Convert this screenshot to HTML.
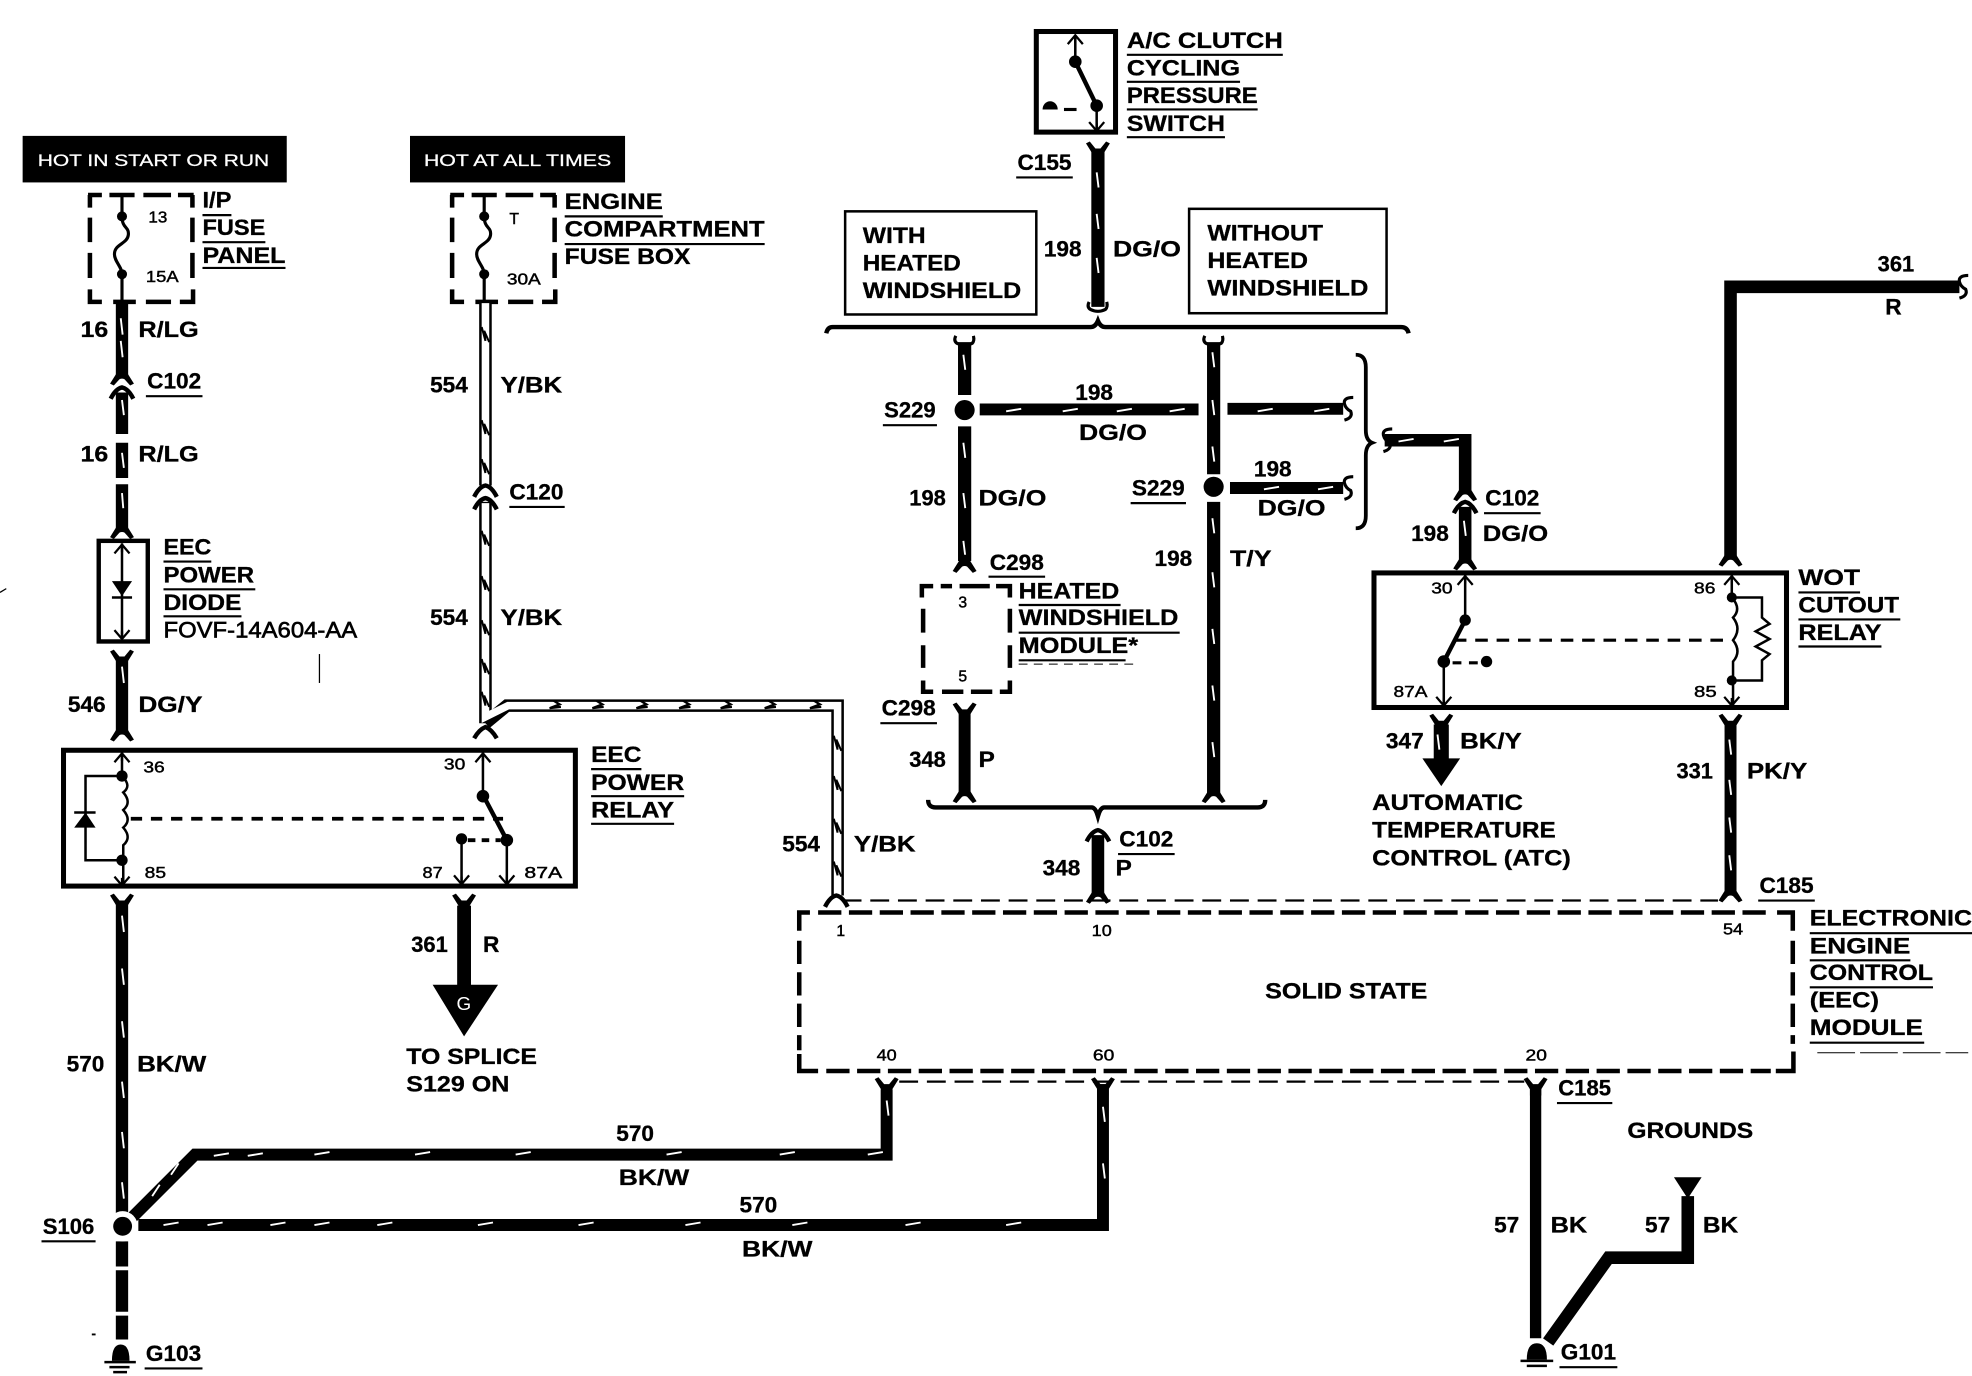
<!DOCTYPE html>
<html><head><meta charset="utf-8"><style>
html,body{margin:0;padding:0;background:#fff}
svg{display:block}
text{font-family:"Liberation Sans",Arial,sans-serif;font-weight:bold;font-size:18px;fill:#000;stroke:#000;stroke-width:.25}
.n{font-size:12.5px;font-weight:normal;stroke-width:.35}
.w{fill:#fff;stroke:#fff;stroke-width:.2;font-size:13px;font-weight:normal}
.u{stroke:#000;stroke-width:1.7;fill:none}
.l{stroke:#000;fill:none}
.k{stroke:#fff;stroke-width:1.5;fill:none}
.d{stroke:#000;stroke-width:3.6;fill:none}
.x{stroke:#000;stroke-width:1.8;fill:none;stroke-dasharray:15 7}
</style></head><body>
<svg xmlns="http://www.w3.org/2000/svg" width="1972" height="1376" viewBox="0 0 1568 1094">
<defs>
<path id="t" d="M-9.500 -4L-6.500 -5.500L-2 0H2L6.500 -5.500L9.500 -4L4.500 4V9H-4.500V4Z"/>
<path id="b" d="M-9.500 5L-6.500 6.500L-2 1.500Q0 0.500 2 1.500L6.500 6.500L9.500 5L4.500 -3V-8H-4.500V-3Z"/>
<path id="a" d="M-9 5Q-5 -3 0 -4Q5 -3 9 5" fill="none" stroke="#000" stroke-width="3.500"/>
<path id="c" d="M-7 -5Q-9 -1 -6 1Q0 4 6 1Q8 -1 7 -5" fill="none" stroke="#000" stroke-width="2.500"/>
<path id="up" d="M-6 7L0 0L6 7M0 0V6" fill="none" stroke="#000" stroke-width="1.800"/>
<path id="dn" d="M-6 -7L0 0L6 -7M0 0V-6" fill="none" stroke="#000" stroke-width="1.800"/>
<path id="cu" d="M6 -9Q-2 -9 -1 -4Q0 0 4 2Q6 7 -1 9" fill="none" stroke="#000" stroke-width="2.500"/>
<path id="f" d="M70 155H81M87 155H107M114 155H136M141.500 155H154M71.500 155V165M71.500 173V192.500M71.500 201V221M71.500 230V240H81M90 240H108M116 240H136M143 240H153.500V230M153 221V201M153 192.500V173M153 165V155"/>
<path id="z" d="M0 -4L5 -1L-3 2L6 1" fill="none" stroke="#000" stroke-width="1.800"/>
<path id="v" d="M-3 -6L0 5L-1 -3L3 6" fill="none" stroke="#000" stroke-width="1.600"/>
</defs>

<!-- header boxes -->
<rect x="18" y="108" width="210" height="37"/><text class="w" x="30" y="132" textLength="184" lengthAdjust="spacingAndGlyphs">HOT IN START OR RUN</text>
<rect x="326" y="108" width="171" height="37"/><text class="w" x="337" y="132" textLength="149" lengthAdjust="spacingAndGlyphs">HOT AT ALL TIMES</text>

<!-- fuse 1 -->
<use href="#f" class="d"/>
<path class="l" stroke-width="2.500" d="M97 155V172C97 182 103 180 102 187C101 194 91 194 91 202C91 208 97 212 97 218V240"/>
<circle cx="97" cy="172" r="4"/><circle cx="97" cy="218" r="4"/>
<text class="n" x="118" y="177" textLength="15" lengthAdjust="spacingAndGlyphs">13</text><text class="n" x="116" y="224" textLength="26" lengthAdjust="spacingAndGlyphs">15A</text>
<text x="161" y="165" textLength="23" lengthAdjust="spacingAndGlyphs">I/P</text><text x="161" y="187" textLength="50" lengthAdjust="spacingAndGlyphs">FUSE</text><text x="161" y="209" textLength="66" lengthAdjust="spacingAndGlyphs">PANEL</text>
<path class="u" d="M161 171H184M161 192.500H211M161 213H227"/>

<!-- fuse 2 -->
<use href="#f" class="d" x="288"/>
<path class="l" stroke-width="2.500" d="M385 155V172C385 182 391 180 390 187C389 194 379 194 379 202C379 208 385 212 385 218V240"/>
<circle cx="385" cy="172" r="4"/><circle cx="385" cy="218" r="4"/>
<text class="n" x="405" y="178">T</text><text class="n" x="403" y="226" textLength="27" lengthAdjust="spacingAndGlyphs">30A</text>
<text x="449" y="166" textLength="78" lengthAdjust="spacingAndGlyphs">ENGINE</text><text x="449" y="188" textLength="159" lengthAdjust="spacingAndGlyphs">COMPARTMENT</text><text x="449" y="210" textLength="100" lengthAdjust="spacingAndGlyphs">FUSE BOX</text>
<path class="u" d="M449 172H527M449 194H608"/>

<!-- left wire -->
<g class="l" stroke-width="9.800">
<path d="M97 240V300M97 312V345M97 352V380M97 385V421M97 524V584M97 716V970M97 987V1007M97 1010V1043M97 1046V1065"/>
</g>
<use href="#b" x="97" y="300"/><use href="#a" x="97" y="312"/>
<use href="#b" x="97" y="422"/><use href="#t" x="97" y="522"/><use href="#b" x="97" y="583"/><use href="#t" x="97" y="716"/>
<path class="k" d="M96 253l1.500 13M96 271l1.500 13M97 318l1.500 12M97 360l1.500 12M97 392l1 12M97 530l1.500 13M97 728l1.500 13M97 770l1.500 13M97 812l1.500 13M97 860l1.500 13M97 900l1.500 13M97 940l1.500 13"/>
<text x="64" y="268" textLength="22" lengthAdjust="spacingAndGlyphs">16</text><text x="110" y="268" textLength="48" lengthAdjust="spacingAndGlyphs">R/LG</text>
<text x="117" y="309" textLength="43" lengthAdjust="spacingAndGlyphs">C102</text><path class="u" d="M116 315H161"/>
<text x="64" y="367" textLength="22" lengthAdjust="spacingAndGlyphs">16</text><text x="110" y="367" textLength="48" lengthAdjust="spacingAndGlyphs">R/LG</text>

<!-- diode -->
<rect x="78.500" y="430" width="39" height="80" class="l" stroke-width="3.500"/>
<path class="l" stroke-width="2" d="M97 432V508"/>
<use href="#up" x="97" y="433"/><use href="#dn" x="97" y="508"/>
<path d="M89 462H105L97 474Z"/><path class="l" stroke-width="2" d="M89 475H105"/>
<text x="130" y="441" textLength="38" lengthAdjust="spacingAndGlyphs">EEC</text><text x="130" y="463" textLength="72" lengthAdjust="spacingAndGlyphs">POWER</text><text x="130" y="485" textLength="62" lengthAdjust="spacingAndGlyphs">DIODE</text><text x="130" y="507" textLength="154" lengthAdjust="spacingAndGlyphs" style="font-weight:normal;stroke-width:.5">FOVF-14A604-AA</text>
<path class="u" d="M130 446.500H168M130 468.500H203M130 490H192"/>
<path class="l" d="M254 520V543" stroke-width="1"/><path class="l" d="M0 471L5 468" stroke-width="1"/>
<text x="54" y="566" textLength="30" lengthAdjust="spacingAndGlyphs">546</text><text x="110" y="566" textLength="51" lengthAdjust="spacingAndGlyphs">DG/Y</text>

<!-- EEC relay -->
<rect x="50.500" y="596.500" width="407" height="108" class="l" stroke-width="4"/>
<path class="l" stroke-width="2" d="M97 598V617Q105 625 98 630Q105 638 98 644Q105 652 98 658Q105 666 98 672V703M97 617H68V684H97"/>
<use href="#up" x="97" y="599"/><use href="#dn" x="97" y="704"/>
<circle cx="97" cy="617" r="4.500"/><circle cx="97" cy="684" r="4.500"/>
<path d="M59 658H76L68 646Z"/><path class="l" stroke-width="2" d="M59 646H76"/>
<path class="l" stroke-width="3" stroke-dasharray="9 7" d="M104 651H400"/>
<path class="l" stroke-width="2" d="M384 598V632M367 667V703M403 668V703"/>
<use href="#up" x="384" y="599"/><use href="#dn" x="367" y="703"/><use href="#dn" x="403" y="703"/>
<path class="l" stroke-width="3.500" d="M384 632L403 668"/>
<circle cx="384" cy="633" r="5"/><circle cx="403" cy="668" r="5"/><circle cx="367" cy="667" r="4.500"/>
<path class="l" stroke-width="3" stroke-dasharray="6 5" d="M372 668H398"/>
<text class="n" x="114" y="614" textLength="17" lengthAdjust="spacingAndGlyphs">36</text><text class="n" x="353" y="612" textLength="17" lengthAdjust="spacingAndGlyphs">30</text><text class="n" x="115" y="698" textLength="17" lengthAdjust="spacingAndGlyphs">85</text><text class="n" x="336" y="698" textLength="16" lengthAdjust="spacingAndGlyphs">87</text><text class="n" x="417" y="698" textLength="30" lengthAdjust="spacingAndGlyphs">87A</text>
<text x="470" y="606" textLength="40" lengthAdjust="spacingAndGlyphs">EEC</text><text x="470" y="628" textLength="74" lengthAdjust="spacingAndGlyphs">POWER</text><text x="470" y="650" textLength="66" lengthAdjust="spacingAndGlyphs">RELAY</text>
<path class="u" d="M470 611.500H510M470 633H544M470 655H536"/>
<text x="53" y="852" textLength="30" lengthAdjust="spacingAndGlyphs">570</text><text x="109" y="852" textLength="55" lengthAdjust="spacingAndGlyphs">BK/W</text>

<!-- 361 -->
<use href="#t" x="369" y="716"/><path class="l" stroke-width="11" d="M369 720V785"/>
<path d="M344 783H396L369 824Z"/><text x="363" y="803" style="fill:#fff;stroke:none;font-size:15px;font-weight:normal">G</text>
<text x="327" y="757" textLength="29" lengthAdjust="spacingAndGlyphs">361</text><text x="384" y="757" textLength="13" lengthAdjust="spacingAndGlyphs">R</text>
<text x="323" y="846" textLength="104" lengthAdjust="spacingAndGlyphs">TO SPLICE</text><text x="323" y="868" textLength="82" lengthAdjust="spacingAndGlyphs">S129 ON</text>

<!-- 554 -->
<g class="l" stroke-width="10"><path d="M386 240V386M386 399V575M386 575L403 561H666V712"/></g>
<g stroke="#fff" fill="none" stroke-width="6"><path d="M386 241V386M386 400V570L404 561H666V712"/></g>
<use href="#v" x="386" y="266"/><use href="#v" x="386" y="340"/><use href="#v" x="386" y="371"/><use href="#v" x="386" y="428"/><use href="#v" x="386" y="464"/><use href="#v" x="386" y="499"/><use href="#v" x="386" y="530"/><use href="#v" x="386" y="556"/>
<use href="#z" x="440" y="561"/><use href="#z" x="474" y="561"/><use href="#z" x="509" y="561"/><use href="#z" x="543" y="561"/><use href="#z" x="576" y="561"/><use href="#z" x="611" y="561"/><use href="#z" x="647" y="561"/>
<use href="#v" x="666" y="591"/><use href="#v" x="666" y="623"/><use href="#v" x="666" y="657"/><use href="#v" x="666" y="691"/>
<use href="#a" x="386" y="390"/><use href="#a" x="386" y="400"/>
<path class="l" stroke-width="3.500" d="M377 587Q381 580 386 578Q391 580 395 587"/>
<text x="342" y="312" textLength="30" lengthAdjust="spacingAndGlyphs">554</text><text x="398" y="312" textLength="49" lengthAdjust="spacingAndGlyphs">Y/BK</text>
<text x="405" y="397" textLength="43" lengthAdjust="spacingAndGlyphs">C120</text><path class="u" d="M405 403H449"/>
<text x="342" y="497" textLength="30" lengthAdjust="spacingAndGlyphs">554</text><text x="398" y="497" textLength="49" lengthAdjust="spacingAndGlyphs">Y/BK</text>
<text x="622" y="677" textLength="30" lengthAdjust="spacingAndGlyphs">554</text><text x="679" y="677" textLength="49" lengthAdjust="spacingAndGlyphs">Y/BK</text>
<use href="#a" x="665" y="716"/>

<!-- bottom left -->
<path class="l" stroke-width="9.500" stroke-linejoin="miter" d="M103 970L155 918H705V866"/>
<path class="l" stroke-width="9.500" d="M110 974H877V862"/>
<path class="k" d="M121 951l6-9M136 934l6-9M170 919l12-2M197 919l12-2M250 918l12-2M330 918l12-2M410 918l12-2M530 918l12-2M620 918l12-2M690 918l12-2M705 875l1.500 12M130 974l12-2M165 974l12-2M215 974l12-2M250 974l12-2M300 974l12-2M380 974l12-2M460 974l12-2M545 974l12-2M630 974l12-2M720 974l12-2M800 974l12-2M877 880l1.500 12M877 925l1.500 12"/>
<use href="#t" x="705" y="862"/><use href="#t" x="877" y="862"/>
<text x="490" y="907" textLength="30" lengthAdjust="spacingAndGlyphs">570</text><text x="492" y="942" textLength="56" lengthAdjust="spacingAndGlyphs">BK/W</text>
<text x="588" y="964" textLength="30" lengthAdjust="spacingAndGlyphs">570</text><text x="590" y="999" textLength="56" lengthAdjust="spacingAndGlyphs">BK/W</text>
<text x="34" y="981" textLength="41" lengthAdjust="spacingAndGlyphs">S106</text><path class="u" d="M33 987H76"/>
<circle cx="97.500" cy="975" r="12" fill="#fff"/><circle cx="97.500" cy="975" r="7.500"/>
<path d="M89 1082Q89 1069 96 1069Q103 1069 103 1082Z"/><path class="l" stroke-width="2" d="M83 1083H108M87 1087H103M90 1091H101"/>
<text x="116" y="1082" textLength="44" lengthAdjust="spacingAndGlyphs">G103</text><path class="u" d="M115 1088H161"/>
<path class="l" stroke-width="1.500" d="M73 1061H76"/>

<!-- A/C -->
<rect x="824" y="25" width="63" height="80" class="l" stroke-width="4"/>
<path class="l" stroke-width="2" d="M855 28V49M872 84V105"/><use href="#up" x="855" y="28"/><use href="#dn" x="872" y="104"/>
<path class="l" stroke-width="3.500" d="M855 49L872 84"/><circle cx="855" cy="49" r="5"/><circle cx="872" cy="84" r="5"/><path d="M829 87a5.500 6 0 0 1 12 0Z"/>
<path class="l" stroke-width="2.500" d="M846 87H856"/>
<text x="896" y="38" textLength="124" lengthAdjust="spacingAndGlyphs">A/C CLUTCH</text><text x="896" y="60" textLength="90" lengthAdjust="spacingAndGlyphs">CYCLING</text><text x="896" y="82" textLength="104" lengthAdjust="spacingAndGlyphs">PRESSURE</text><text x="896" y="104" textLength="78" lengthAdjust="spacingAndGlyphs">SWITCH</text>
<path class="u" d="M896 43.500H1020M896 65H986M896 87H1000M896 109H974"/>
<path class="l" stroke-width="10.500" d="M873 118V244"/><use href="#t" x="873" y="118"/><use href="#c" x="873" y="245"/>
<path class="k" d="M872 137l1.500 12M872 170l1.500 12M872 205l1.500 12"/>
<text x="809" y="135" textLength="43" lengthAdjust="spacingAndGlyphs">C155</text><path class="u" d="M808 141H853"/>
<text x="830" y="204" textLength="30" lengthAdjust="spacingAndGlyphs">198</text><text x="885" y="204" textLength="54" lengthAdjust="spacingAndGlyphs">DG/O</text>
<rect x="672" y="168" width="152" height="82" class="l" stroke-width="2"/>
<text x="686" y="193" textLength="50" lengthAdjust="spacingAndGlyphs">WITH</text><text x="686" y="215" textLength="78" lengthAdjust="spacingAndGlyphs">HEATED</text><text x="686" y="237" textLength="126" lengthAdjust="spacingAndGlyphs">WINDSHIELD</text>
<rect x="945.500" y="166" width="157" height="83" class="l" stroke-width="2"/>
<text x="960" y="191" textLength="92" lengthAdjust="spacingAndGlyphs">WITHOUT</text><text x="960" y="213" textLength="80" lengthAdjust="spacingAndGlyphs">HEATED</text><text x="960" y="235" textLength="128" lengthAdjust="spacingAndGlyphs">WINDSHIELD</text>
<path class="l" stroke-width="3.500" d="M657 265Q658 260 662 260H867Q871 260 873 255Q875 260 879 260H1114Q1119 260 1120 265"/>

<!-- 198 verticals -->
<use href="#c" x="767" y="272"/><use href="#c" x="965" y="272"/>
<path class="l" stroke-width="10.500" d="M767 272V314M767 339V446M965 272V377M965 399V632"/>
<circle cx="767" cy="326" r="8"/><circle cx="965" cy="387" r="8"/>
<path class="k" d="M766 282l1.500 12M766 352l1.500 12M766 392l1.500 12M766 430l1.500 12M964 280l1.500 12M964 318l1.500 12M964 355l1.500 12M964 412l1.500 12M964 455l1.500 12M964 500l1.500 12M964 545l1.500 12M964 590l1.500 12"/>
<use href="#b" x="767" y="449"/><use href="#b" x="965" y="632"/>
<path class="l" stroke-width="9.500" d="M779 325.500H953M976 325H1068M978 388H1068"/>
<path class="k" d="M800 327l12-2M845 327l12-2M888 327l12-2M930 327l12-2M1000 327l12-2M1045 327l12-2M1005 389l12-2M1048 389l12-2"/>
<use href="#cu" x="1070" y="325"/><use href="#cu" x="1070" y="388"/>
<text x="855" y="318" textLength="30" lengthAdjust="spacingAndGlyphs">198</text><text x="858" y="350" textLength="54" lengthAdjust="spacingAndGlyphs">DG/O</text>
<text x="703" y="332" textLength="41" lengthAdjust="spacingAndGlyphs">S229</text><path class="u" d="M702 338H745"/>
<text x="997" y="379" textLength="30" lengthAdjust="spacingAndGlyphs">198</text><text x="1000" y="410" textLength="54" lengthAdjust="spacingAndGlyphs">DG/O</text>
<text x="900" y="394" textLength="42" lengthAdjust="spacingAndGlyphs">S229</text><path class="u" d="M899 400H943"/>
<text x="723" y="402" textLength="29" lengthAdjust="spacingAndGlyphs">198</text><text x="778" y="402" textLength="54" lengthAdjust="spacingAndGlyphs">DG/O</text>
<text x="918" y="450" textLength="30" lengthAdjust="spacingAndGlyphs">198</text><text x="978" y="450" textLength="33" lengthAdjust="spacingAndGlyphs">T/Y</text>
<path class="l" stroke-width="3" d="M1078 282Q1086 282 1086 292V342Q1086 350 1091 352Q1086 354 1086 362V410Q1086 420 1078 420"/>
<path class="l" stroke-width="10" d="M1101 350H1165V390"/><path class="k" d="M1112 351l12-2M1148 351l12-2"/>
<use href="#cu" x="1101" y="350"/>
<use href="#b" x="1165" y="392"/><use href="#a" x="1165" y="403"/>
<path class="l" stroke-width="10" d="M1165 403V445"/><path class="k" d="M1164 414l1.500 12"/><use href="#b" x="1165" y="447"/>
<text x="1181" y="402" textLength="43" lengthAdjust="spacingAndGlyphs">C102</text><path class="u" d="M1180 408H1225"/>
<text x="1122" y="430" textLength="30" lengthAdjust="spacingAndGlyphs">198</text><text x="1179" y="430" textLength="52" lengthAdjust="spacingAndGlyphs">DG/O</text>

<!-- heated windshield -->
<path class="d" d="M733 475V466H742M748 466H757M763 466H787M792 466H803V475M734 484V503M734 513V531M734 541V550H742M749 550H766M772 550H789M795 550H803V541M803 531V513M803 503V484"/>
<text class="n" x="762" y="483">3</text><text class="n" x="762" y="542">5</text>
<text x="787" y="453" textLength="43" lengthAdjust="spacingAndGlyphs">C298</text><path class="u" d="M786 458.500H831"/>
<text x="810" y="476" textLength="80" lengthAdjust="spacingAndGlyphs">HEATED</text><text x="810" y="497" textLength="127" lengthAdjust="spacingAndGlyphs">WINDSHIELD</text><text x="810" y="519" textLength="95" lengthAdjust="spacingAndGlyphs">MODULE*</text>
<path class="u" d="M810 481H891M810 503H938M810 525H895"/>
<path class="l" stroke-width=".8" stroke-dasharray="7 5" d="M810 528H904"/>
<use href="#t" x="767" y="564"/><path class="l" stroke-width="9.500" d="M767 566V632"/><use href="#b" x="767" y="632"/>
<text x="701" y="569" textLength="43" lengthAdjust="spacingAndGlyphs">C298</text><path class="u" d="M700 575H745"/>
<text x="723" y="610" textLength="29" lengthAdjust="spacingAndGlyphs">348</text><text x="778" y="610" textLength="13" lengthAdjust="spacingAndGlyphs">P</text>
<path class="l" stroke-width="3.500" d="M738 636Q738 642 744 642H868Q871 642 873 649Q875 642 878 642H1000Q1006 642 1006 636"/>
<path class="l" stroke-width="10" d="M873 664V712"/><use href="#a" x="873" y="664"/><use href="#b" x="873" y="712"/>
<text x="890" y="673" textLength="43" lengthAdjust="spacingAndGlyphs">C102</text><path class="u" d="M889 679H934"/>
<text x="829" y="696" textLength="30" lengthAdjust="spacingAndGlyphs">348</text><text x="887" y="696" textLength="13" lengthAdjust="spacingAndGlyphs">P</text>

<!-- WOT relay -->
<rect x="1092.500" y="455.500" width="328" height="107" class="l" stroke-width="4"/>
<path class="l" stroke-width="2" d="M1165 457V493M1148 526V561M1377 457V475Q1385 484 1378 491Q1385 500 1378 509Q1385 518 1378 526V561M1377 475H1401V491L1407 496L1396 502L1407 508L1396 514L1407 520L1401 525V541H1377"/>
<use href="#up" x="1165" y="458"/><use href="#dn" x="1148" y="561"/><use href="#up" x="1377" y="458"/><use href="#dn" x="1377" y="561"/>
<path class="l" stroke-width="3.500" d="M1165 493L1148 526"/>
<circle cx="1165" cy="493" r="4.500"/><circle cx="1148" cy="526" r="5"/><circle cx="1182" cy="526" r="4.500"/><circle cx="1377" cy="475" r="4"/><circle cx="1377" cy="541" r="4"/>
<path class="l" stroke-width="2.500" stroke-dasharray="10 7" d="M1156 509H1376"/>
<path class="l" stroke-width="2.500" stroke-dasharray="7 6" d="M1155 527H1178"/>
<text class="n" x="1138" y="472" textLength="17" lengthAdjust="spacingAndGlyphs">30</text><text class="n" x="1347" y="472" textLength="17" lengthAdjust="spacingAndGlyphs">86</text><text class="n" x="1108" y="554" textLength="27" lengthAdjust="spacingAndGlyphs">87A</text><text class="n" x="1347" y="554" textLength="18" lengthAdjust="spacingAndGlyphs">85</text>
<text x="1430" y="465" textLength="49" lengthAdjust="spacingAndGlyphs">WOT</text><text x="1430" y="487" textLength="80" lengthAdjust="spacingAndGlyphs">CUTOUT</text><text x="1430" y="509" textLength="66" lengthAdjust="spacingAndGlyphs">RELAY</text>
<path class="u" d="M1430 471H1479M1430 492.500H1511M1430 514H1496"/>
<path class="l" stroke-width="10" stroke-linejoin="miter" d="M1558 228H1376V442"/><use href="#b" x="1376" y="444"/>
<use href="#cu" x="1559" y="228"/>
<text x="1493" y="216" textLength="29" lengthAdjust="spacingAndGlyphs">361</text><text x="1499" y="250" textLength="13" lengthAdjust="spacingAndGlyphs">R</text>
<use href="#t" x="1146" y="573"/><path class="l" stroke-width="12" d="M1146 576V605"/><path d="M1131 603H1161L1146 625Z"/><path class="k" d="M1143 584l1.500 12"/>
<text x="1102" y="595" textLength="30" lengthAdjust="spacingAndGlyphs">347</text><text x="1161" y="595" textLength="49" lengthAdjust="spacingAndGlyphs">BK/Y</text>
<text x="1091" y="644" textLength="120" lengthAdjust="spacingAndGlyphs">AUTOMATIC</text><text x="1091" y="666" textLength="146" lengthAdjust="spacingAndGlyphs">TEMPERATURE</text><text x="1091" y="688" textLength="158" lengthAdjust="spacingAndGlyphs">CONTROL (ATC)</text>
<use href="#t" x="1376" y="573"/><path class="l" stroke-width="9.500" d="M1376 576V710"/><use href="#b" x="1376" y="711"/>
<path class="k" d="M1375 588l1.500 12M1375 620l1.500 12M1375 650l1.500 12M1375 680l1.500 12"/>
<text x="1333" y="619" textLength="29" lengthAdjust="spacingAndGlyphs">331</text><text x="1389" y="619" textLength="48" lengthAdjust="spacingAndGlyphs">PK/Y</text>
<text x="1399" y="710" textLength="43" lengthAdjust="spacingAndGlyphs">C185</text><path class="u" d="M1398 716H1443"/>

<!-- ECU -->
<path class="x" d="M670 716H1366"/>
<path class="x" d="M715 860H1212"/>
<path class="d" d="M635.500 740V725.500H644"/>
<path class="d" stroke-dasharray="18.500 6" d="M650.500 725.500H1408"/>
<path class="d" d="M1413 725.500H1425.500V740"/>
<path class="d" stroke-dasharray="18.500 6.500" d="M1425.500 748V830"/>
<path class="d" stroke-dasharray="18.500 6.500" d="M635.500 748V835"/>
<path class="d" d="M635.500 838V851.500H650.500M1426 836V851.500H1412"/>
<path class="d" stroke-dasharray="18.500 6" d="M657 851.500H1408"/>
<text class="n" x="665" y="744">1</text><text class="n" x="868" y="744" textLength="16" lengthAdjust="spacingAndGlyphs">10</text><text class="n" x="1370" y="743" textLength="16" lengthAdjust="spacingAndGlyphs">54</text>
<text class="n" x="697" y="843" textLength="16" lengthAdjust="spacingAndGlyphs">40</text><text class="n" x="869" y="843" textLength="17" lengthAdjust="spacingAndGlyphs">60</text><text class="n" x="1213" y="843" textLength="17" lengthAdjust="spacingAndGlyphs">20</text>
<text x="1006" y="794" textLength="129" lengthAdjust="spacingAndGlyphs">SOLID STATE</text>
<text x="1439" y="736" textLength="129" lengthAdjust="spacingAndGlyphs">ELECTRONIC</text><text x="1439" y="758" textLength="80" lengthAdjust="spacingAndGlyphs">ENGINE</text><text x="1439" y="779" textLength="98" lengthAdjust="spacingAndGlyphs">CONTROL</text><text x="1439" y="801" textLength="55" lengthAdjust="spacingAndGlyphs">(EEC)</text><text x="1439" y="823" textLength="90" lengthAdjust="spacingAndGlyphs">MODULE</text>
<path class="u" d="M1439 742H1568M1439 763.500H1519M1439 785H1537M1439 829H1530"/>
<path class="l" stroke-width=".8" d="M1445 837H1565" stroke-dasharray="30 4"/>

<!-- grounds -->
<use href="#t" x="1221" y="862"/><path class="l" stroke-width="9" d="M1221 864V1064"/>
<path class="l" stroke-width="10" stroke-linejoin="miter" d="M1231 1067L1279 1000H1342V951"/>
<path d="M1331 936H1353L1342 953Z"/>
<path d="M1214 1081Q1214 1068 1222 1068Q1230 1068 1230 1081Z"/><path class="l" stroke-width="2" d="M1209 1082H1235M1214 1086H1230"/>
<text x="1294" y="905" textLength="100" lengthAdjust="spacingAndGlyphs">GROUNDS</text>
<text x="1188" y="980" textLength="20" lengthAdjust="spacingAndGlyphs">57</text><text x="1233" y="980" textLength="29" lengthAdjust="spacingAndGlyphs">BK</text>
<text x="1308" y="980" textLength="20" lengthAdjust="spacingAndGlyphs">57</text><text x="1354" y="980" textLength="28" lengthAdjust="spacingAndGlyphs">BK</text>
<text x="1239" y="871" textLength="42" lengthAdjust="spacingAndGlyphs">C185</text><path class="u" d="M1238 877H1282"/>
<text x="1241" y="1081" textLength="44" lengthAdjust="spacingAndGlyphs">G101</text><path class="u" d="M1240 1087H1286"/>
</svg>
</body></html>
